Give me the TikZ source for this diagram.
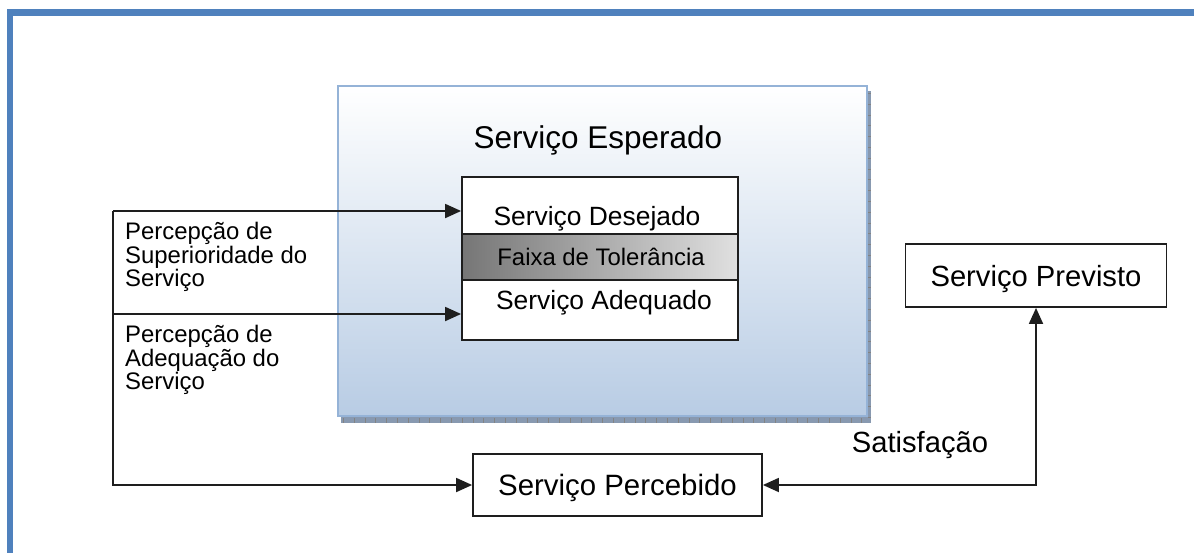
\documentclass[tikz,border=0pt]{standalone}
\usepackage{fontspec}
\setmainfont{Liberation Sans}
\usetikzlibrary{arrows.meta}
\definecolor{frameblue}{RGB}{79,129,189}
\definecolor{espborder}{RGB}{149,179,215}
\definecolor{espbottom}{RGB}{184,204,228}
\definecolor{shadowblue}{RGB}{136,153,176}
\definecolor{ink}{RGB}{30,30,30}
\definecolor{bandleft}{RGB}{118,118,118}
\definecolor{bandright}{RGB}{224,224,224}
\tikzset{
  fs/.style={font=\fontsize{#1}{#1}\selectfont},
  lbl/.style={font=\fontsize{23.9}{23.7}\selectfont, align=left, anchor=north west, inner sep=0pt},
  box/.style={draw=ink, line width=1.8pt, fill=white, inner sep=0pt},
  link/.style={draw=ink, line width=1.8pt},
}
\begin{document}
\begin{tikzpicture}[x=1pt,y=-1pt,>={Triangle[length=16pt,width=14pt]}]
\useasboundingbox (0,0) rectangle (1194,552);
\clip (0,0) rectangle (1194,552);

% outer frame (open to the right and bottom)
\draw[frameblue, line width=6.5pt] (10,560) -- (10,12.5) -- (1200,12.5);

% drop shadow of the expected-service panel
\fill[shadowblue] (341,91) rectangle (871,423);
\draw[ink!55, line width=5pt, dash pattern=on 0.8pt off 10pt] (343,420) -- (871,420);
\draw[ink!55, line width=3pt, dash pattern=on 0.8pt off 10pt] (869,93) -- (869,423);

% expected-service panel
\node[minimum width=529pt, minimum height=330pt, inner sep=0pt,
      top color=white, bottom color=espbottom, draw=espborder, line width=2.5pt]
      (esp) at (602.5,251) {};
\node[fs=31.5, anchor=base] (espT) at (598,148) {Serviço Esperado};

% desired / tolerance / adequate stack
\node[box, minimum width=276pt, minimum height=163pt] (inner) at (600,258.5) {};
\node[draw=ink, line width=1.8pt, left color=bandleft, right color=bandright,
      minimum width=276pt, minimum height=46pt, inner sep=0pt] (faixa) at (600,257) {};
\node[fs=26.4, anchor=base] (des) at (597,225) {Serviço Desejado};
\node[fs=23.9, anchor=base] (tol) at (601,265) {Faixa de Tolerância};
\node[fs=26.4, anchor=base] (ade) at (604,309) {Serviço Adequado};

% perception labels
\node[lbl] (sup) at (125,222) {Percepção de\\Superioridade do\\Serviço};
\node[lbl] (adq) at (125,325) {Percepção de\\Adequação do\\Serviço};

% perceived and predicted service
\node[box, fs=29.4, minimum width=289pt, minimum height=62pt, text height=21pt, text depth=0pt]
      (perc) at (617.5,485) {Serviço Percebido};
\node[box, fs=29.2, minimum width=261pt, minimum height=63pt, text height=21pt, text depth=0pt]
      (prev) at (1036,275.5) {Serviço Previsto};
\node[fs=29.2, anchor=base] (sat) at (920,452) {Satisfação};

% connectors
\coordinate (split) at (113,211);
\coordinate (split2) at (113,314);
\draw[link,->] (split) -- (inner.west |- split);
\draw[link,->] (split2) -- (inner.west |- split2);
\draw[link,->] (split) -- (split |- perc.west) -- (perc.west);
\draw[link,<->] (perc.east) -- (perc.east -| prev.south) -- (prev.south);
\end{tikzpicture}
\end{document}
